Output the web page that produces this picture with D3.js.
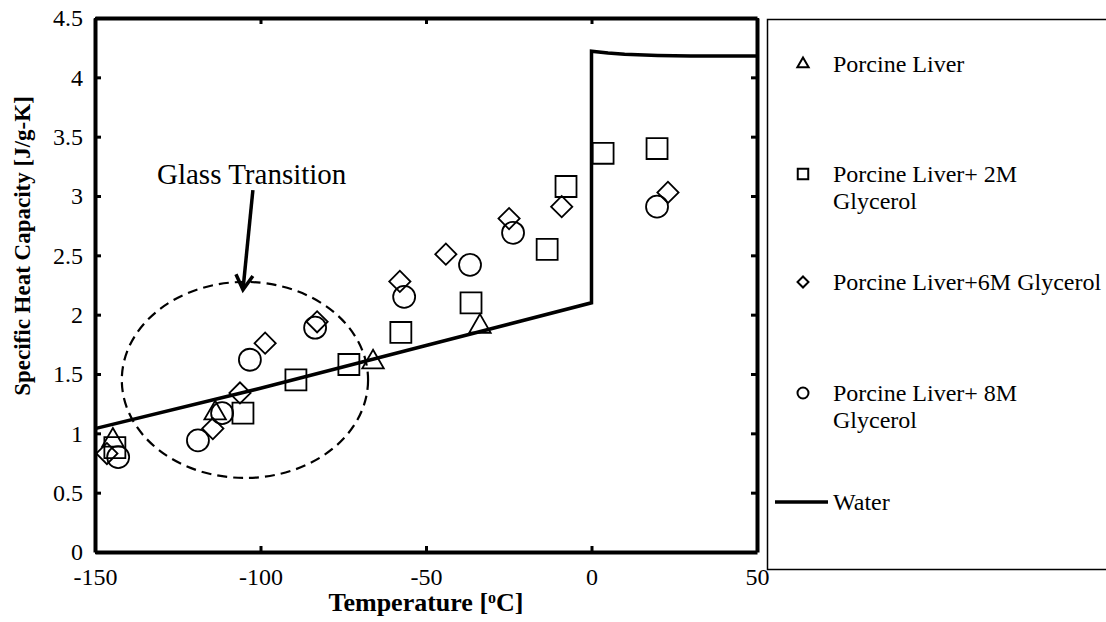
<!DOCTYPE html>
<html>
<head>
<meta charset="utf-8">
<script src="https://cdn.jsdelivr.net/npm/d3@7"></script>
<style>
body { margin: 0; background: #fff; }
text { font-family: "Liberation Serif", "Times New Roman", serif; fill: #000; }
</style>
</head>
<body>
<svg id="chart" width="1106" height="622"></svg>
<script>
// series
const liverT = [-144.6, -113.7, -66.0, -33.7];
const liverCp = [0.94, 1.17, 1.60, 1.90];

const gly2T = [-144.0, -105.3, -89.3, -73.3, -57.6, -36.4, -13.4, -7.7, 3.5, 19.8];
const gly2Cp = [0.88, 1.17, 1.45, 1.58, 1.85, 2.10, 2.55, 3.08, 3.36, 3.40];

const gly6T = [-146.4, -114.4, -106.2, -98.6, -82.9, -57.9, -44.0, -24.9, -9.0, 23.1];
const gly6Cp = [0.83, 1.04, 1.34, 1.76, 1.94, 2.28, 2.51, 2.81, 2.91, 3.03];

const gly8T = [-143.0, -118.9, -111.6, -103.2, -83.5, -56.6, -36.7, -23.7, 19.8];
const gly8Cp = [0.80, 0.94, 1.17, 1.62, 1.89, 2.15, 2.42, 2.69, 2.91];

const waterT = [-150, -100, -50, 0, 0, 5, 10, 20, 30, 40, 50];
const waterCp = [1.04, 1.38, 1.74, 2.10, 4.22, 4.205, 4.195, 4.185, 4.18, 4.18, 4.18];

const xTicks = [-150, -100, -50, 0, 50];
const yTicks = [0, 0.5, 1, 1.5, 2, 2.5, 3, 3.5, 4, 4.5];

const legendLabels = [
    ["Porcine Liver"],
    ["Porcine Liver+ 2M", "Glycerol"],
    ["Porcine Liver+6M Glycerol"],
    ["Porcine Liver+ 8M", "Glycerol"]
];

// glass transition annotation (data units)
const glassCenter = [-104.7, 1.45];
const glassRadius = [37.2, 0.826];
const arrowFrom = [-102.3, 3.05];
const arrowTo = [-105.3, 2.21];

const svg = d3.select("#chart");
const plotL = 95, plotR = 757, plotT = 18, plotB = 552;
const serif = '"Liberation Serif", "Times New Roman", serif';

const x = d3.scaleLinear().domain([-150, 50]).range([plotL, plotR]);
const y = d3.scaleLinear().domain([0, 4.5]).range([plotB, plotT]);

// axes, ticks pointing inward on all four sides
const axisStyle = g => {
    g.attr("font-family", serif);
    g.select(".domain").attr("stroke", "#000").attr("stroke-width", 4);
    g.selectAll(".tick line").attr("stroke", "#000").attr("stroke-width", 3);
    g.selectAll(".tick text")
        .style("font-family", serif)
        .style("font-size", "24px")
        .attr("fill", "#000");
};

svg.append("g")
    .attr("transform", `translate(0,${plotB})`)
    .call(d3.axisBottom(x).tickValues(xTicks).tickSize(-6).tickSizeOuter(0).tickPadding(16).tickFormat(d => d))
    .call(axisStyle)
    .call(g => g.selectAll(".tick text").attr("dy", "0.71em"));

svg.append("g")
    .attr("transform", `translate(0,${plotT})`)
    .call(d3.axisTop(x).tickValues(xTicks).tickSize(-6).tickSizeOuter(0).tickFormat(""))
    .call(axisStyle);

svg.append("g")
    .attr("transform", `translate(${plotL},0)`)
    .call(d3.axisLeft(y).tickValues(yTicks).tickSize(-6).tickSizeOuter(0).tickPadding(12).tickFormat(d => d))
    .call(axisStyle);

svg.append("g")
    .attr("transform", `translate(${plotR},0)`)
    .call(d3.axisRight(y).tickValues(yTicks).tickSize(-6).tickSizeOuter(0).tickFormat(""))
    .call(axisStyle);

// axis titles
svg.append("text")
    .attr("x", (plotL + plotR) / 2)
    .attr("y", 611)
    .attr("text-anchor", "middle")
    .style("font-size", "26px")
    .style("font-weight", "bold")
    .html("Temperature [<tspan dy='-8' style='font-size:16px'>o</tspan><tspan dy='8'>C]</tspan>");

svg.append("text")
    .attr("transform", "translate(22,246) rotate(-90)")
    .attr("text-anchor", "middle")
    .attr("dominant-baseline", "central")
    .style("font-size", "23px")
    .style("font-weight", "bold")
    .text("Specific Heat Capacity [J/g-K]");

// water line
const waterData = waterT.map((t, i) => [t, waterCp[i]]);
svg.append("path")
    .datum(waterData)
    .attr("fill", "none")
    .attr("stroke", "#000")
    .attr("stroke-width", 3.5)
    .attr("stroke-linejoin", "miter")
    .attr("d", d3.line().x(d => x(d[0])).y(d => y(d[1])));

// glass transition ellipse + arrow
svg.append("ellipse")
    .attr("cx", x(glassCenter[0]))
    .attr("cy", y(glassCenter[1]))
    .attr("rx", x(glassCenter[0] + glassRadius[0]) - x(glassCenter[0]))
    .attr("ry", y(glassCenter[1] - glassRadius[1]) - y(glassCenter[1]))
    .attr("fill", "none")
    .attr("stroke", "#000")
    .attr("stroke-width", 2.2)
    .attr("stroke-dasharray", "10,6");

const ax1 = x(arrowFrom[0]), ay1 = y(arrowFrom[1]);
const ax2 = x(arrowTo[0]), ay2 = y(arrowTo[1]);
svg.append("line")
    .attr("x1", ax1).attr("y1", ay1).attr("x2", ax2).attr("y2", ay2)
    .attr("stroke", "#000").attr("stroke-width", 3.5);
const ang = Math.atan2(ay2 - ay1, ax2 - ax1);
const headLen = 17, spread = Math.PI / 6;
svg.append("path")
    .attr("d", d3.line()([
        [ax2 - headLen * Math.cos(ang - spread), ay2 - headLen * Math.sin(ang - spread)],
        [ax2, ay2],
        [ax2 - headLen * Math.cos(ang + spread), ay2 - headLen * Math.sin(ang + spread)]
    ]))
    .attr("fill", "none").attr("stroke", "#000").attr("stroke-width", 3.5)
    .attr("stroke-linejoin", "miter");

svg.append("text")
    .attr("x", 157)
    .attr("y", 184)
    .style("font-size", "29px")
    .text("Glass Transition");

// scatter series
const series = [
    { t: liverT, cp: liverCp, shape: d3.symbolTriangle, size: 200, rot: 0, lsize: 55 },
    { t: gly2T, cp: gly2Cp, shape: d3.symbolSquare, size: 440, rot: 0, lsize: 110 },
    { t: gly6T, cp: gly6Cp, shape: d3.symbolSquare, size: 225, rot: 45, lsize: 60 },
    { t: gly8T, cp: gly8Cp, shape: d3.symbolCircle, size: 380, rot: 0, lsize: 95 }
];

series.forEach(s => {
    const pts = s.t.map((t, i) => [t, s.cp[i]]);
    svg.append("g")
        .selectAll("path")
        .data(pts)
        .join("path")
        .attr("transform", d => `translate(${x(d[0])},${y(d[1])}) rotate(${s.rot})`)
        .attr("d", d3.symbol().type(s.shape).size(s.size))
        .attr("fill", "none")
        .attr("stroke", "#000")
        .attr("stroke-width", 1.8);
});

// legend
const legend = svg.append("g");
legend.append("rect")
    .attr("x", 767.5).attr("y", 19.5)
    .attr("width", 400).attr("height", 550)
    .attr("fill", "none").attr("stroke", "#000").attr("stroke-width", 1.5);

const rowY = [64, 174, 282, 393];
series.forEach((s, i) => {
    legend.append("path")
        .attr("transform", `translate(803,${rowY[i]}) rotate(${s.rot})`)
        .attr("d", d3.symbol().type(s.shape).size(s.lsize))
        .attr("fill", "none")
        .attr("stroke", "#000")
        .attr("stroke-width", 2);
    legendLabels[i].forEach((line, j) => {
        legend.append("text")
            .attr("x", 833)
            .attr("y", rowY[i] + j * 27)
            .attr("dy", "0.33em")
            .style("font-size", "24px")
            .text(line);
    });
});

legend.append("line")
    .attr("x1", 775).attr("x2", 828)
    .attr("y1", 502).attr("y2", 502)
    .attr("stroke", "#000").attr("stroke-width", 3.5);
legend.append("text")
    .attr("x", 833).attr("y", 502).attr("dy", "0.33em")
    .style("font-size", "24px")
    .text("Water");
</script>
</body>
</html>
